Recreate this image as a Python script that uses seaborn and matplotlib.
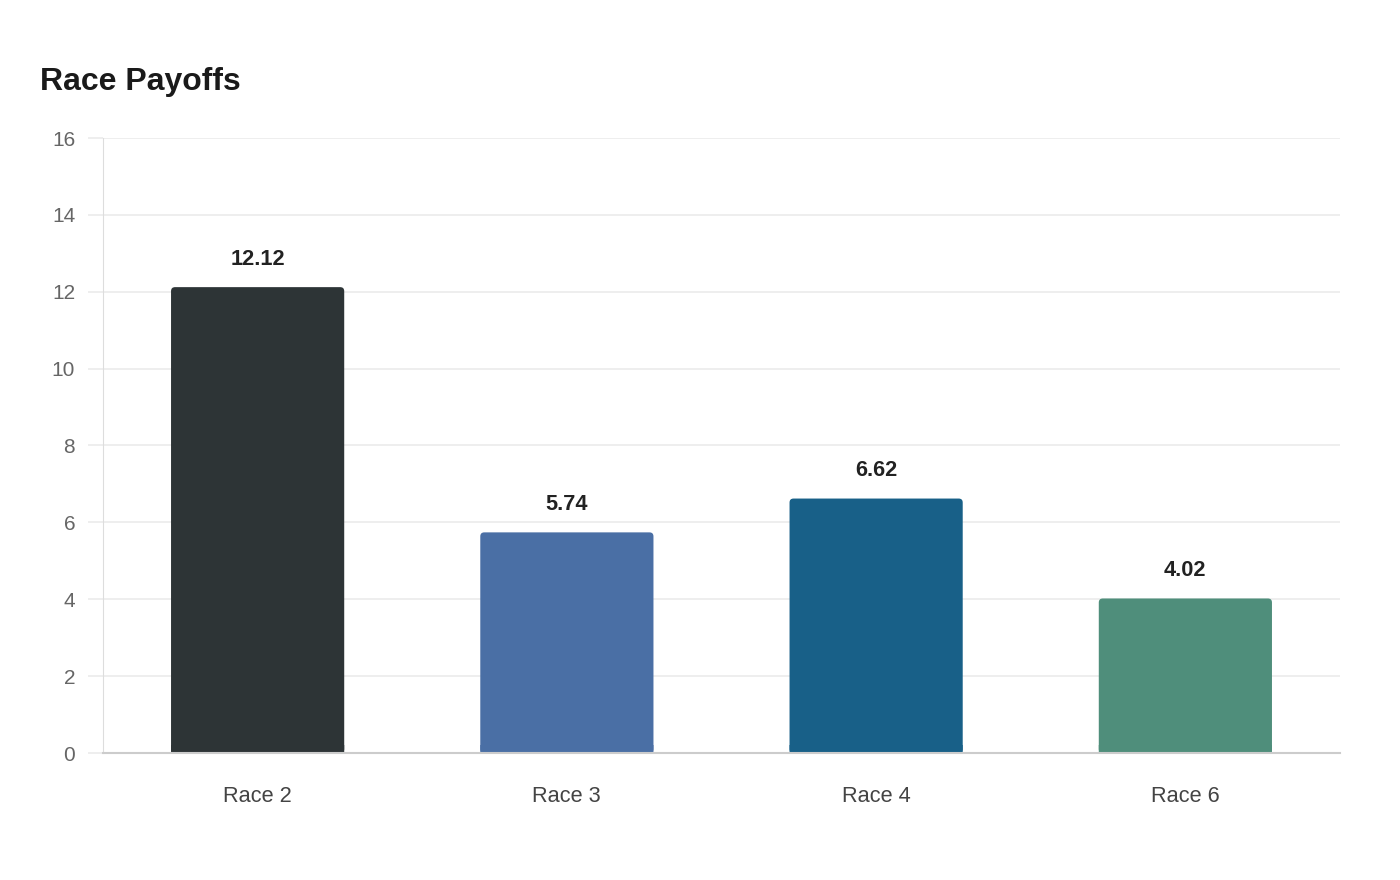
import pandas as pd
import seaborn as sns
import matplotlib.pyplot as plt
from matplotlib.patches import FancyBboxPatch, Rectangle

races = ["Race 2", "Race 3", "Race 4", "Race 6"]
payoffs = [12.12, 5.74, 6.62, 4.02]
bar_colors = ["#2d3436", "#4a6fa5", "#186088", "#4f8e7b"]
y_ticks = [0, 2, 4, 6, 8, 10, 12, 14, 16]

sns.set_theme(style="white")
plt.rcParams["font.family"] = ["Liberation Sans", "DejaVu Sans"]

df = pd.DataFrame({"race": races, "payoff": payoffs})

fig = plt.figure(figsize=(14, 8.8), dpi=100)
ax = fig.add_axes([103 / 1400, 127 / 880, 1237 / 1400, 615 / 880])

sns.barplot(data=df, x="race", y="payoff", hue="race", palette=bar_colors,
            width=0.56, legend=False, ax=ax, zorder=3, saturation=1)

ax.set_ylim(0, 16)
ax.set_xlim(-0.5, len(races) - 0.5)
ax.set_yticks(y_ticks)
ax.yaxis.grid(True, color="#ebebeb", linewidth=1.2, zorder=0)
ax.set_axisbelow(True)

# rounded top corners on the bars (bottom corners covered by a short square strip)
x_per_px = len(races) / 1237
y_per_px = 16 / 615
r_px = 4
for p in list(ax.patches):
    x, y, w, h = p.get_x(), p.get_y(), p.get_width(), p.get_height()
    col = p.get_facecolor()
    p.remove()
    ax.add_patch(FancyBboxPatch((x, y), w, h,
                                boxstyle=f"round,pad=0,rounding_size={r_px * x_per_px}",
                                mutation_aspect=y_per_px / x_per_px,
                                facecolor=col, edgecolor="none", zorder=3))
    ax.add_patch(Rectangle((x, y), w, 8 * y_per_px, facecolor=col,
                           edgecolor="none", zorder=3, snap=False))

for i, v in enumerate(payoffs):
    ax.annotate(f"{v:.2f}", (i, v), xytext=(0, 20), textcoords="offset points",
                ha="center", va="center", fontsize=15.7, fontweight="bold", color="#222222")

for s in ["top", "right"]:
    ax.spines[s].set_visible(False)
ax.spines["left"].set_color("#dddddd")
ax.spines["left"].set_linewidth(0.8)
ax.spines["bottom"].set_color("#cccccc")
ax.spines["bottom"].set_linewidth(1.5)
ax.spines["bottom"].set_zorder(4)

ax.tick_params(axis="y", length=11, color="#ebebeb", width=1.2, pad=9,
               labelsize=15, labelcolor="#666666", left=True)
ax.tick_params(axis="x", length=0, pad=24, labelsize=15.7, labelcolor="#444444")
ax.set_xlabel("")
ax.set_ylabel("")

fig.text(40 / 1400, 1 - 82 / 880, "Race Payoffs", fontsize=23, fontweight="bold",
         color="#1a1a1a", ha="left", va="center")

fig.savefig("out.png", dpi=100, facecolor="white")
